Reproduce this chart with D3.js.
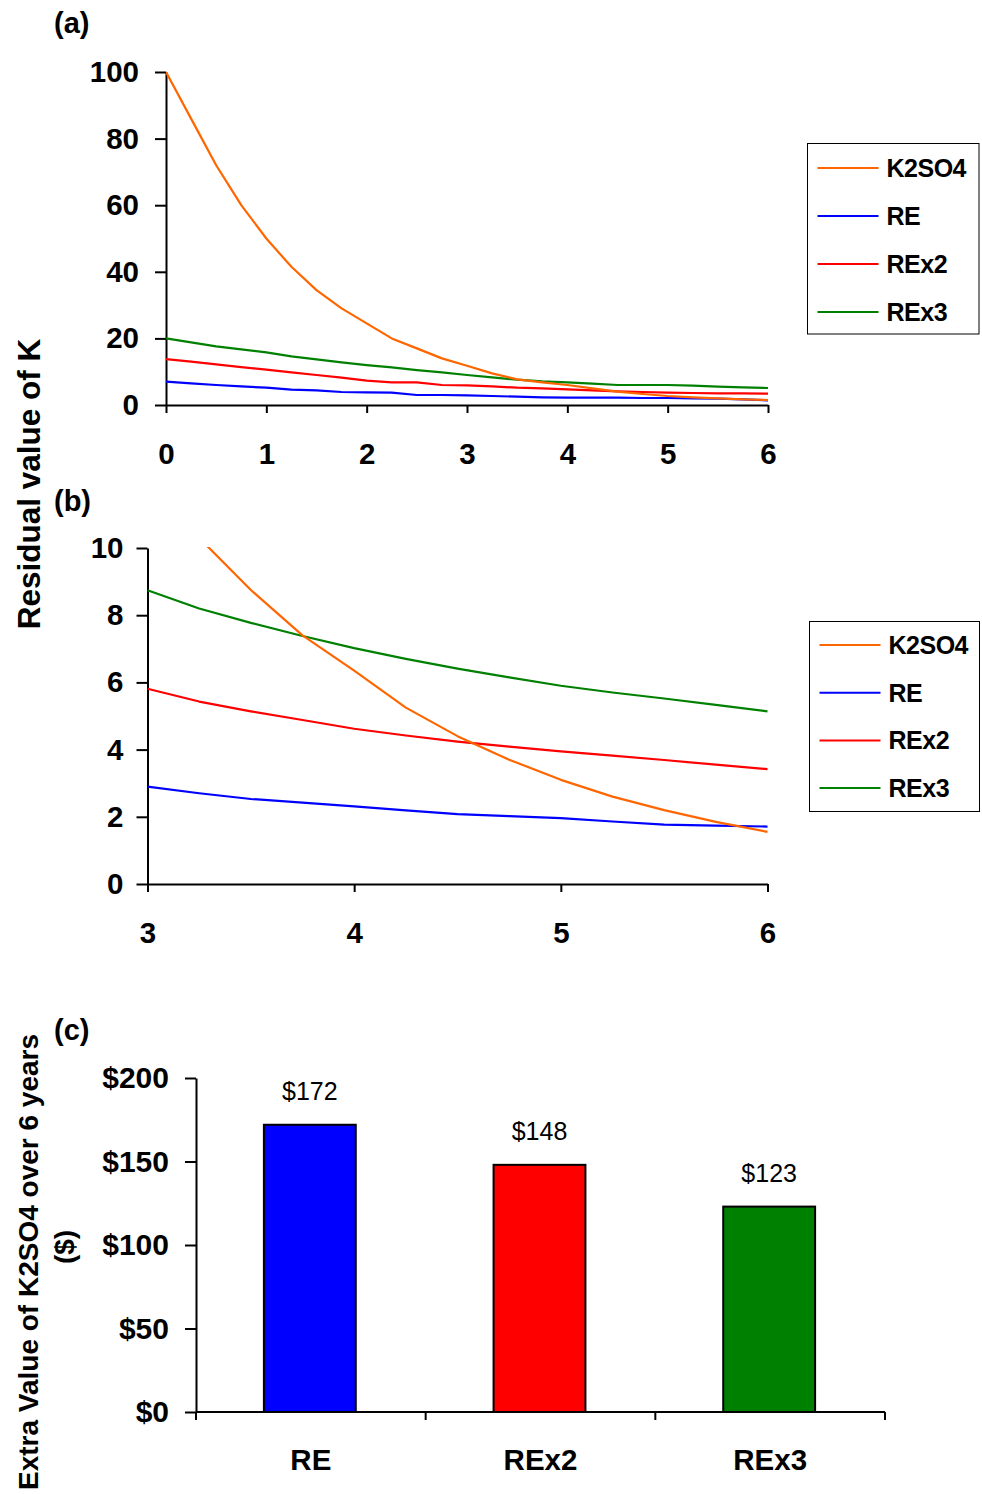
<!DOCTYPE html>
<html>
<head>
<meta charset="utf-8">
<script src="https://cdn.jsdelivr.net/npm/d3@7"></script>
<style>
  html, body { margin: 0; padding: 0; background: #fff; }
  svg { display: block; font-family: "Liberation Sans", Arial, sans-serif; }
</style>
</head>
<body>
<svg id="chart" width="982" height="1494"></svg>
<script>
// ---------- DATA ----------
const seriesNames = ["K2SO4", "RE", "REx2", "REx3"];
const seriesColors = ["#FF6600", "#0000FF", "#FF0000", "#008000"];

// Panel (a): years 0-6
const yearsA = [0,0.25,0.5,0.75,1,1.25,1.5,1.75,2,2.25,2.5,2.75,3,3.25,3.5,3.75,4,4.25,4.5,4.75,5,5.25,5.5,5.75,6];
const k2so4A = [100,86,72,60,50,41.5,34.5,29,24.5,20,17,14,11.8,9.5,7.7,6.8,6.0,5.0,4.0,3.3,2.7,2.3,2.0,1.7,1.5];
const reA    = [7,6.5,6,5.6,5.2,4.6,4.4,3.9,3.8,3.7,3,3,2.9,2.7,2.5,2.3,2.2,2.2,2.2,2.1,2.1,2.0,1.9,1.7,1.4];
const rex2A  = [13.8,13,12.2,11.4,10.6,9.8,9.0,8.2,7.3,6.8,6.8,6.0,5.9,5.6,5.2,5.0,4.7,4.4,4.1,3.9,3.7,3.6,3.5,3.5,3.4];
const rex3A  = [20,18.8,17.6,16.7,15.8,14.6,13.7,12.8,12,11.3,10.5,9.8,9,8.3,7.6,7.1,6.8,6.4,6,6,6,5.8,5.5,5.3,5.1];

// Panel (b): years 3-6 (zoom)
const yearsB = [3,3.25,3.5,3.75,4,4.25,4.5,4.75,5,5.25,5.5,5.75,6];
const k2so4B = [12.5,10.3,8.75,7.4,6.35,5.25,4.4,3.7,3.1,2.6,2.2,1.85,1.55];
const reB    = [2.9,2.7,2.53,2.42,2.31,2.19,2.08,2.02,1.96,1.86,1.77,1.74,1.71];
const rex2B  = [5.81,5.43,5.14,4.88,4.62,4.42,4.24,4.09,3.95,3.82,3.69,3.55,3.42];
const rex3B  = [8.74,8.2,7.77,7.38,7.02,6.7,6.41,6.15,5.9,5.7,5.52,5.33,5.14];

// Panel (c)
const barCategories = ["RE", "REx2", "REx3"];
const barValues = [172, 148, 123];
const barColors = ["#0000FF", "#FF0000", "#008000"];

const ticksAy = [0,20,40,60,80,100];
const ticksAx = [0,1,2,3,4,5,6];
const ticksBy = [0,2,4,6,8,10];
const ticksBx = [3,4,5,6];
const ticksCy = [0,50,100,150,200];

// ---------- DRAW ----------
const svg = d3.select("#chart");
const FONT_TICK = 29.5;

function styleAxis(g, fs) {
  g.select(".domain").attr("stroke", "#000").attr("stroke-width", 2);
  g.selectAll(".tick line").attr("stroke", "#000").attr("stroke-width", 2);
  g.selectAll(".tick text").attr("fill", "#000").attr("font-size", fs).attr("font-weight", "bold")
    .attr("font-family", "'Liberation Sans', Arial, sans-serif");
}

function linePanel(opts) {
  const x = d3.scaleLinear().domain(opts.xDomain).range(opts.xRange);
  const y = d3.scaleLinear().domain(opts.yDomain).range(opts.yRange);
  const clipId = "clip-" + opts.id;
  svg.append("clipPath").attr("id", clipId).append("rect")
    .attr("x", opts.xRange[0]).attr("y", opts.yRange[1] - 1)
    .attr("width", opts.xRange[1] - opts.xRange[0] + 2)
    .attr("height", opts.yRange[0] - opts.yRange[1] + 1);

  const gx = svg.append("g").attr("transform", `translate(0,${opts.yRange[0]})`)
    .call(d3.axisBottom(x).tickValues(opts.xTicks).tickFormat(d3.format("d"))
      .tickSize(8).tickSizeOuter(0).tickPadding(30));
  styleAxis(gx, FONT_TICK);
  const gy = svg.append("g").attr("transform", `translate(${opts.xRange[0]},0)`)
    .call(d3.axisLeft(y).tickValues(opts.yTicks).tickFormat(d3.format("d"))
      .tickSize(11).tickSizeOuter(0).tickPadding(opts.yPad));
  styleAxis(gy, FONT_TICK);

  const line = d3.line().x((d, i) => x(opts.xs[i])).y(d => y(d));
  const g = svg.append("g").attr("clip-path", `url(#${clipId})`);
  [3, 2, 1, 0].forEach(k => {
    g.append("path").datum(opts.series[k])
      .attr("fill", "none").attr("stroke", seriesColors[k]).attr("stroke-width", 2.2)
      .attr("stroke-linejoin", "round")
      .attr("d", line);
  });

  const L = opts.legend;
  svg.append("rect").attr("x", L.x).attr("y", L.y).attr("width", L.w).attr("height", L.h)
    .attr("fill", "#fff").attr("stroke", "#000").attr("stroke-width", 1);
  seriesNames.forEach((name, i) => {
    const cy = L.y + L.first + i * L.step;
    svg.append("line").attr("x1", L.x + 10).attr("x2", L.x + 71).attr("y1", cy).attr("y2", cy)
      .attr("stroke", seriesColors[i]).attr("stroke-width", 2);
    svg.append("text").attr("x", L.x + 79).attr("y", cy).attr("dy", "0.36em")
      .attr("font-size", 25).attr("font-weight", "bold").attr("fill", "#000")
      .attr("letter-spacing", -0.5)
      .text(name);
  });
}

linePanel({
  id: "a", xDomain: [0, 6], xRange: [166, 768], yDomain: [0, 100], yRange: [405, 72],
  xTicks: ticksAx, yTicks: ticksAy, yPad: 16, xs: yearsA,
  series: [k2so4A, reA, rex2A, rex3A],
  legend: { x: 807.5, y: 143.5, w: 171.5, h: 190.5, first: 24.5, step: 48 }
});

linePanel({
  id: "b", xDomain: [3, 6], xRange: [147.5, 767.5], yDomain: [0, 10], yRange: [884, 548],
  xTicks: ticksBx, yTicks: ticksBy, yPad: 13, xs: yearsB,
  series: [k2so4B, reB, rex2B, rex3B],
  legend: { x: 809.5, y: 621.5, w: 170, h: 190, first: 23.5, step: 47.7 }
});

[["(a)", 33], ["(b)", 511], ["(c)", 1040]].forEach(([t, yy]) => {
  svg.append("text").attr("x", 54).attr("y", yy).attr("font-size", 29).attr("font-weight", "bold")
    .attr("fill", "#000").text(t);
});

svg.append("text").attr("transform", "translate(40,484) rotate(-90)")
  .attr("text-anchor", "middle").attr("font-size", 31.5).attr("font-weight", "bold")
  .attr("fill", "#000").text("Residual value of K");

// Panel (c)
const xc = d3.scaleBand().domain(barCategories).range([196, 885]).paddingInner(0.6).paddingOuter(0.3);
const xcAxisScale = d3.scaleBand().domain(barCategories).range([196, 885]);
const yc = d3.scaleLinear().domain([0, 200]).range([1412, 1078]);

svg.append("g").selectAll("rect").data(barValues).join("rect")
  .attr("x", (d, i) => xc(barCategories[i]) - 1)
  .attr("y", d => yc(d))
  .attr("width", xc.bandwidth())
  .attr("height", d => yc(0) - yc(d))
  .attr("fill", (d, i) => barColors[i])
  .attr("stroke", "#000").attr("stroke-width", 2);

svg.append("g").selectAll("text").data(barValues).join("text")
  .attr("x", (d, i) => xc(barCategories[i]) - 1 + xc.bandwidth() / 2)
  .attr("y", d => yc(d) - 25)
  .attr("text-anchor", "middle").attr("font-size", 25).attr("fill", "#000")
  .text(d => "$" + d);

const gyc = svg.append("g").attr("transform", "translate(196,0)")
  .call(d3.axisLeft(yc).tickValues(ticksCy).tickFormat(d => "$" + d)
    .tickSize(11).tickSizeOuter(0).tickPadding(16));
styleAxis(gyc, 30);

const gxc = svg.append("g").attr("transform", "translate(0,1412)");
gxc.append("line").attr("x1", 196).attr("x2", 885).attr("y1", 0).attr("y2", 0)
  .attr("stroke", "#000").attr("stroke-width", 2);
const boundaries = barCategories.map(c => xcAxisScale(c)).concat([xcAxisScale.range()[1]]);
gxc.selectAll("line.tk").data(boundaries).join("line").attr("class", "tk")
  .attr("x1", d => d).attr("x2", d => d).attr("y1", 0).attr("y2", 8)
  .attr("stroke", "#000").attr("stroke-width", 2);
gxc.selectAll("text").data(barCategories).join("text")
  .attr("x", c => xcAxisScale(c) + xcAxisScale.bandwidth() / 2)
  .attr("y", 58).attr("text-anchor", "middle")
  .attr("font-size", 29.5).attr("font-weight", "bold").attr("fill", "#000")
  .text(c => c);

svg.append("text").attr("transform", "translate(38,1262) rotate(-90)")
  .attr("text-anchor", "middle").attr("font-size", 28).attr("font-weight", "bold")
  .attr("fill", "#000").text("Extra Value of K2SO4 over 6 years");
svg.append("text").attr("transform", "translate(74,1247) rotate(-90)")
  .attr("text-anchor", "middle").attr("font-size", 28).attr("font-weight", "bold")
  .attr("fill", "#000").text("($)");
</script>
</body>
</html>
